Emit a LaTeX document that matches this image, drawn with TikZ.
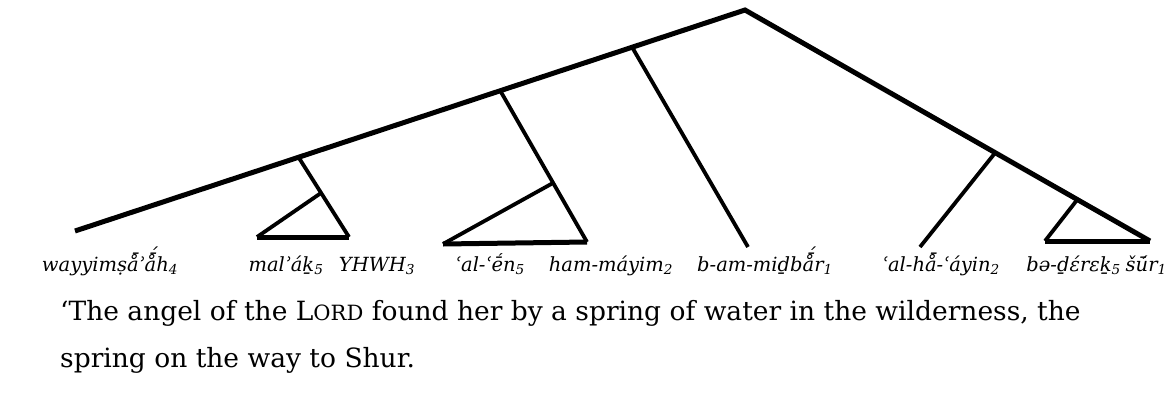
\documentclass[tikz,border=0pt]{standalone}
\usepackage{fontspec}
\setmainfont{DejaVu Serif}
\usetikzlibrary{positioning}
\newcommand{\idx}[1]{\textsubscript{#1}}
\newcommand{\lordsc}{L{\fontsize{21}{21}\selectfont ORD}}
\newcommand{\ringbar}{\ooalign{å\cr\hidewidth\kern.14em\raisebox{.17em}{\char"00AF}\hidewidth\cr}}
\newcommand{\ringbaracute}{\ooalign{å\cr\hidewidth\kern.14em\raisebox{.17em}{\char"00AF}\hidewidth\cr\hidewidth\kern.26em\raisebox{.42em}{\char"00B4}\hidewidth\cr}}

\begin{document}
\begin{tikzpicture}[x=1pt, y=-1pt,
	spine/.style={line width=5pt},
	twig/.style={line width=3.8pt},
	base/.style={line width=5pt},
	word/.style={font=\fontsize{19.5}{24}\selectfont\itshape, anchor=base, inner sep=0pt},
	gloss/.style={font=\fontsize{26.5}{47}\selectfont, anchor=base west, inner sep=0pt}]
	\useasboundingbox (0,0) rectangle (1168,394);
	% tree points
	\coordinate (root) at (745,10);
	\coordinate (lend) at (75,231);
	\coordinate (rend) at (1150,241);
	\coordinate (b1) at (299,158);
	\coordinate (b1e) at (349,237);
	\coordinate (t1a) at (321,193);
	\coordinate (t1l) at (257,237);
	\coordinate (b2) at (501,92);
	\coordinate (b2e) at (587,242);
	\coordinate (t2a) at (553,183);
	\coordinate (t2l) at (443,244);
	\coordinate (b3) at (632,47);
	\coordinate (b3e) at (748,247);
	\coordinate (b4) at (995,153);
	\coordinate (b4e) at (920,247);
	\coordinate (t3a) at (1077,200);
	\coordinate (t3l) at (1045,241);
	% spine
	\draw[spine] (lend) -- (root) -- (rend);
	% branches
	\draw[twig] (b1) -- (b1e);
	\draw[twig] (t1a) -- (t1l);
	\draw[base] (t1l) -- (b1e);
	\draw[twig] (b2) -- (b2e);
	\draw[twig] (t2a) -- (t2l);
	\draw[base] (t2l) -- (b2e);
	\draw[twig] (b3) -- (b3e);
	\draw[twig] (b4) -- (b4e);
	\draw[twig] (t3a) -- (t3l);
	\draw[base] (t3l) -- (rend);
	% words
	\node[word] (w1) at (110,271) {wayyimṣ\ringbar ʾ\ringbaracute h\idx{4}};
	\node[word] (w2) at (286,271) {malʾáḵ\idx{5}};
	\node[word] (w3) at (377,271) {YHWH\idx{3}};
	\node[word] (w4) at (490,271) {ʿal-ʿḗn\idx{5}};
	\node[word] (w5) at (611,271) {ham-máyim\idx{2}};
	\node[word] (w6) at (765,271) {b-am-miḏb\ringbaracute r\idx{1}};
	\node[word] (w7) at (941,271) {ʿal-h\ringbar-ʿáyin\idx{2}};
	\node[word, anchor=base east] (w8) at (1121,271) {bə-ḏɛ́rɛḵ\idx{5}};
	\node[word, anchor=base east] (w9) at (1167,271) {šū́r\idx{1}};
	% translation
	\node[gloss] (gl1) at (60,320) {‘The angel of the \lordsc{} found her by a spring of water in the wilderness, the};
	\node[gloss] (gl2) at (60,367) {spring on the way to Shur.};
\end{tikzpicture}
\end{document}
